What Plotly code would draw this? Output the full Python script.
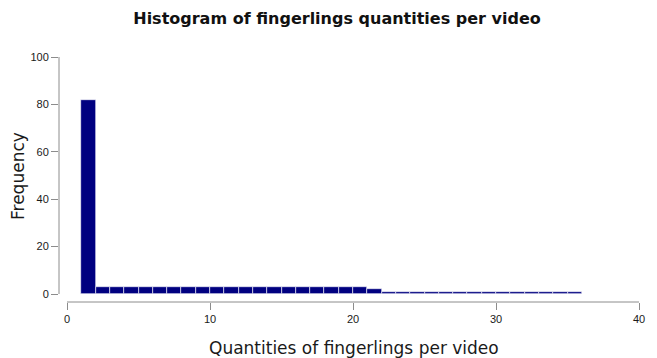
import plotly.graph_objects as go

# Histogram bins (left edges, width 1) and their counts
bin_left = [1, 2, 3, 4, 5, 6, 7, 8, 9, 10, 11, 12, 13, 14, 15, 16, 17, 18, 19, 20,
            21, 22, 23, 24, 25, 26, 27, 28, 29, 30, 31, 32, 33, 34, 35]
counts = [82, 3, 3, 3, 3, 3, 3, 3, 3, 3, 3, 3, 3, 3, 3, 3, 3, 3, 3, 3,
          2, 1, 1, 1, 1, 1, 1, 1, 1, 1, 1, 1, 1, 1, 1]
bin_width = 1

x_ticks = [0, 10, 20, 30, 40]
y_ticks = [0, 20, 40, 60, 80, 100]

W, H = 657, 358
axis_grey = "#8c8c8c"
tick_font = dict(family="Liberation Sans, Arial, sans-serif", size=11, color="#1a1a1a")
label_font = dict(family="DejaVu Sans, Verdana, sans-serif", size=17, color="#1a1a1a")

fig = go.Figure(
    go.Bar(
        x=[b + bin_width / 2 for b in bin_left],
        y=counts,
        width=[bin_width] * len(bin_left),
        marker=dict(color="#000080", line=dict(color="white", width=0.6)),
        hoverinfo="x+y",
    )
)

fig.update_layout(
    width=W,
    height=H,
    margin=dict(l=59, r=18, t=57, b=56, autoexpand=False),
    paper_bgcolor="white",
    plot_bgcolor="white",
    showlegend=False,
    bargap=0,
    title=dict(
        text="<b>Histogram of fingerlings quantities per video</b>",
        x=337 / W,
        xanchor="center",
        y=1 - 18 / H,
        yanchor="middle",
        font=dict(family="DejaVu Sans, Verdana, sans-serif", size=16, color="#111111"),
    ),
    xaxis=dict(
        range=[-8 / 14.3, 40],
        automargin=False,
        tickvals=x_ticks,
        ticktext=[str(v) for v in x_ticks],
        ticks="outside",
        ticklen=7,
        tickcolor=axis_grey,
        tickwidth=1,
        showline=False,
        showgrid=False,
        zeroline=False,
        tickfont=tick_font,
    ),
    yaxis=dict(
        range=[-8 / 2.37, 100],
        automargin=False,
        tickvals=y_ticks,
        ticktext=[str(v) for v in y_ticks],
        ticks="outside",
        ticklen=7,
        tickcolor=axis_grey,
        tickwidth=1,
        showline=False,
        showgrid=False,
        zeroline=False,
        tickfont=tick_font,
    ),
    annotations=[
        dict(text="Quantities of fingerlings per video", xref="paper", yref="paper",
             x=(354 - 59) / 580, y=-(348 - 302) / 245, xanchor="center", yanchor="middle",
             showarrow=False, font=label_font),
        dict(text="Frequency", xref="paper", yref="paper",
             x=-(59 - 18) / 580, y=(302 - 176) / 245, xanchor="center", yanchor="middle",
             textangle=-90, showarrow=False, font=label_font),
    ],
    shapes=[
        # x axis line spanning the tick range only
        dict(type="line", xref="x", yref="paper", x0=x_ticks[0], x1=x_ticks[-1], y0=0, y1=0,
             line=dict(color=axis_grey, width=1)),
        # y axis line spanning the tick range only
        dict(type="line", xref="paper", yref="y", x0=0, x1=0, y0=y_ticks[0], y1=y_ticks[-1],
             line=dict(color=axis_grey, width=1)),
    ],
)

fig.write_html("out.html")
